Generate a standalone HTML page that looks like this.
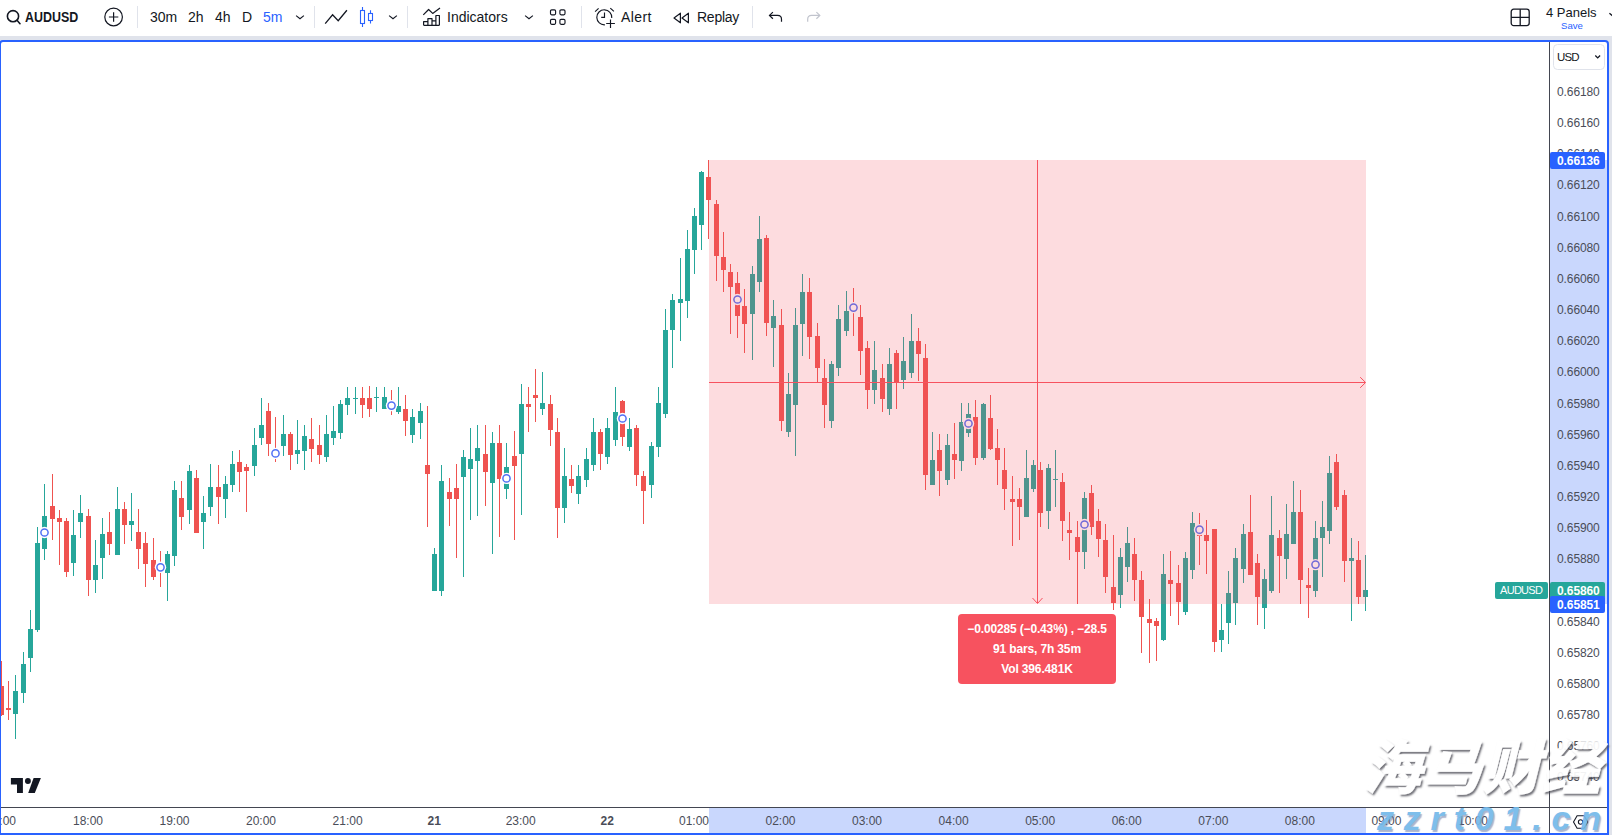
<!DOCTYPE html>
<html lang="en">
<head>
<meta charset="utf-8">
<title>AUDUSD chart</title>
<style>
html,body{margin:0;padding:0;}
body{width:1612px;height:835px;overflow:hidden;background:#e0e3eb;position:relative;font-family:"Liberation Sans","Noto Sans CJK SC",sans-serif;color:#131722;}
#tb{position:absolute;left:0;top:0;width:1612px;height:36px;background:#fff;}
#tb .t{position:absolute;top:9px;font-size:14px;line-height:16px;white-space:nowrap;color:#131722;}
#tb .sep{position:absolute;top:6px;width:1px;height:22px;background:#e0e3eb;}
#tb svg{position:absolute;overflow:visible;}
#frame{position:absolute;left:-1px;top:40px;width:1606px;height:791px;border:2px solid #2962ff;border-radius:4px 4px 0 0;background:#fff;overflow:hidden;}
#chart{position:absolute;left:0;top:0;}
.pt{position:absolute;left:1557px;width:50px;font-size:12px;line-height:16px;color:#4a4d58;letter-spacing:-0.1px;}
.tt{position:absolute;top:813px;width:60px;text-align:center;font-size:12px;line-height:16px;color:#4a4d58;}
.tt.b{font-weight:bold;}
.lbl{position:absolute;color:#fff;font-size:12px;line-height:17px;font-weight:bold;white-space:nowrap;}
.lbl.ax{left:1550px;width:48px;height:17px;line-height:19px;overflow:hidden;padding-left:7px;border-radius:2px;letter-spacing:-0.1px;}
#wm1{position:absolute;left:1359px;top:734px;font-family:"Liberation Sans","Noto Sans CJK SC","WenQuanYi Zen Hei",sans-serif;font-weight:900;font-size:59px;line-height:70px;color:#fff;white-space:nowrap;transform:skewX(-14deg);transform-origin:left bottom;text-shadow:2px 2px 2px rgba(75,75,85,.85);letter-spacing:.5px;-webkit-text-stroke:.5px rgba(255,255,255,.9);opacity:.93;}
#wm2{position:absolute;left:1377px;top:798px;font-weight:bold;font-style:italic;font-size:34px;line-height:40px;color:#74b9ea;white-space:nowrap;letter-spacing:9.8px;opacity:.92;text-shadow:1.5px 1.5px 1px rgba(90,110,160,.55);}
</style>
</head>
<body>
<div id="tb">
  <svg style="left:4.6px;top:8px" width="18" height="18" viewBox="0 0 18 18" fill="none" stroke="#131722" stroke-width="1.6"><circle cx="8" cy="8.2" r="5.6"/><path d="M12 12.3l3 3.4" stroke-linecap="round"/></svg>
  <div class="t" style="left:25px;top:9px;font-weight:bold;transform:scaleX(.89);transform-origin:0 0;">AUDUSD</div>
  <svg style="left:104px;top:7.4px" width="20" height="20" viewBox="0 0 20 20" fill="none" stroke="#131722" stroke-width="1.2"><circle cx="9.6" cy="10" r="8.8"/><path d="M9.6 5.3v9.4M4.9 10h9.4"/></svg>
  <div class="sep" style="left:137px"></div>
  <div class="t" style="left:150px">30m</div>
  <div class="t" style="left:188px">2h</div>
  <div class="t" style="left:215px">4h</div>
  <div class="t" style="left:242px">D</div>
  <div class="t" style="left:263px;color:#2962ff">5m</div>
  <svg style="left:295px;top:14px" width="10" height="7" viewBox="0 0 10 7" fill="none" stroke="#131722" stroke-width="1.15"><path d="M1.1 1.6l3.9 3.1 3.9-3.1"/></svg>
  <div class="sep" style="left:314px"></div>
  <svg style="left:324px;top:8px" width="24" height="18" viewBox="0 0 24 18" fill="none" stroke="#131722" stroke-width="1.3" stroke-linejoin="miter"><path d="M1.2 15.6L8.6 6.8l5.6 5.9 8.7-10.45"/></svg>
  <svg style="left:359px;top:6px" width="16" height="22" viewBox="0 0 16 22" fill="none" stroke="#2962ff" stroke-width="1.1"><rect x="1.5" y="4.5" width="4" height="13"/><path d="M3.5 1v3.5M3.5 17.5V21"/><rect x="9.5" y="7.5" width="4" height="7"/><path d="M11.5 4.25V7.5M11.5 14.5v3.1"/></svg>
  <svg style="left:388px;top:14px" width="10" height="7" viewBox="0 0 10 7" fill="none" stroke="#131722" stroke-width="1.15"><path d="M1.1 1.6l3.9 3.1 3.9-3.1"/></svg>
  <div class="sep" style="left:407px"></div>
  <svg style="left:421px;top:7px" width="20" height="20" viewBox="0 0 20 20" fill="none" stroke="#131722" stroke-width="1.2" stroke-linejoin="round"><path d="M2.3 7.9l5.3-5.4 4.1 3.9L19 1"/><path d="M2.6 18.3v-3.6h4.3M6.9 18.3v-6.6h4.1v6.6M11 13.9h3.9M14.9 18.3V8.5h3.5v9.8M2.6 18.3h15.8"/></svg>
  <div class="t" style="left:447px">Indicators</div>
  <svg style="left:524px;top:14px" width="10" height="7" viewBox="0 0 10 7" fill="none" stroke="#131722" stroke-width="1.15"><path d="M1.1 1.6l3.9 3.1 3.9-3.1"/></svg>
  <svg style="left:549px;top:9px" width="18" height="17" viewBox="0 0 18 17" fill="none" stroke="#131722" stroke-width="1.15"><rect x="1.5" y=".8" width="5.1" height="5" rx="1.2"/><rect x="10.9" y=".8" width="5.1" height="5" rx="1.2"/><rect x="1.5" y="10.3" width="5.1" height="5" rx="1.2"/><rect x="10.9" y="10.3" width="5.1" height="5" rx="1.2"/></svg>
  <div class="sep" style="left:581px"></div>
  <svg style="left:594px;top:6px" width="22" height="23" viewBox="0 0 22 23" fill="none" stroke="#131722" stroke-width="1.15"><path d="M17.77 11.95A7.5 7.5 0 1 0 10.95 18.77"/><path d="M10.5 6.4v5H7.2"/><path d="M1.1 5.7l3.5-3.3M16.3 2.1l3.6 3.3"/><path d="M16.5 13.5V22M12.2 17.5h8.7"/></svg>
  <div class="t" style="left:621px;letter-spacing:.4px">Alert</div>
  <svg style="left:673.2px;top:11.5px" width="17" height="12" viewBox="0 0 17 12" fill="none" stroke="#131722" stroke-width="1.2" stroke-linejoin="round"><path d="M7.4 1.2v9.6L1 6z"/><path d="M15.4 1.2v9.6L9 6z"/></svg>
  <div class="t" style="left:697px;letter-spacing:-0.25px">Replay</div>
  <div class="sep" style="left:752px"></div>
  <svg style="left:768px;top:10px" width="16" height="13" viewBox="0 0 16 13" fill="none" stroke="#131722" stroke-width="1.2"><path d="M4.9 2.1L1.5 5.4l3.4 3.3"/><path d="M1.6 5.4h8c2.4 0 3.9 1.7 3.9 3.9v2.4"/></svg>
  <svg style="left:805px;top:10px" width="16" height="13" viewBox="0 0 16 13" fill="none" stroke="#c1c4cd" stroke-width="1.2"><path d="M11.4 2.1l3.4 3.3-3.4 3.3"/><path d="M14.7 5.4H6.6c-2.4 0-3.9 1.7-3.9 3.9v2.4"/></svg>
  <svg style="left:1510px;top:8px" width="20" height="19" viewBox="0 0 20 19" fill="none" stroke="#131722" stroke-width="1.3"><rect x="1.2" y="1.2" width="18" height="16.4" rx="2.5"/><path d="M10.2 1.2v16.4M1.2 9.4h18"/></svg>
  <div class="t" style="left:1546px;top:4.5px;font-size:13px;line-height:15px;">4 Panels</div>
  <div class="t" style="left:1561px;top:19.6px;font-size:9.6px;line-height:11px;color:#2962ff;">Save</div>
  <svg style="left:1606px;top:11px" width="10" height="8" viewBox="0 0 10 8" fill="none" stroke="#131722" stroke-width="1.2"><path d="M3.4 2.2l3.8 3.2"/></svg>
</div>

<div id="frame">
<svg id="chart" width="1612" height="795" viewBox="1 42 1612 795" shape-rendering="crispEdges">
  <!-- candles -->
<rect x="1" y="661" width="1" height="55" fill="#ef5350"/>
<rect x="-1" y="686" width="5" height="29" fill="#ef5350"/>
<rect x="8" y="681" width="1" height="39" fill="#ef5350"/>
<rect x="6" y="708" width="5" height="2" fill="#ef5350"/>
<rect x="15" y="675" width="1" height="64" fill="#26a69a"/>
<rect x="13" y="691" width="5" height="23" fill="#26a69a"/>
<rect x="23" y="652" width="1" height="51" fill="#26a69a"/>
<rect x="21" y="664" width="5" height="29" fill="#26a69a"/>
<rect x="30" y="610" width="1" height="62" fill="#26a69a"/>
<rect x="28" y="629" width="5" height="29" fill="#26a69a"/>
<rect x="37" y="527" width="1" height="105" fill="#26a69a"/>
<rect x="35" y="543" width="5" height="87" fill="#26a69a"/>
<rect x="44" y="484" width="1" height="76" fill="#26a69a"/>
<rect x="42" y="516" width="5" height="33" fill="#26a69a"/>
<rect x="52" y="474" width="1" height="66" fill="#ef5350"/>
<rect x="50" y="506" width="5" height="13" fill="#ef5350"/>
<rect x="59" y="510" width="1" height="55" fill="#ef5350"/>
<rect x="57" y="518" width="5" height="4" fill="#ef5350"/>
<rect x="66" y="518" width="1" height="59" fill="#ef5350"/>
<rect x="64" y="521" width="5" height="51" fill="#ef5350"/>
<rect x="73" y="510" width="1" height="66" fill="#26a69a"/>
<rect x="71" y="535" width="5" height="28" fill="#26a69a"/>
<rect x="80" y="495" width="1" height="43" fill="#26a69a"/>
<rect x="78" y="513" width="5" height="9" fill="#26a69a"/>
<rect x="88" y="509" width="1" height="87" fill="#ef5350"/>
<rect x="86" y="516" width="5" height="64" fill="#ef5350"/>
<rect x="95" y="540" width="1" height="53" fill="#26a69a"/>
<rect x="93" y="565" width="5" height="15" fill="#26a69a"/>
<rect x="102" y="518" width="1" height="61" fill="#26a69a"/>
<rect x="100" y="534" width="5" height="24" fill="#26a69a"/>
<rect x="109" y="512" width="1" height="43" fill="#ef5350"/>
<rect x="107" y="532" width="5" height="12" fill="#ef5350"/>
<rect x="117" y="487" width="1" height="68" fill="#26a69a"/>
<rect x="115" y="509" width="5" height="46" fill="#26a69a"/>
<rect x="124" y="502" width="1" height="42" fill="#ef5350"/>
<rect x="122" y="509" width="5" height="16" fill="#ef5350"/>
<rect x="131" y="493" width="1" height="48" fill="#26a69a"/>
<rect x="129" y="521" width="5" height="4" fill="#26a69a"/>
<rect x="138" y="509" width="1" height="60" fill="#ef5350"/>
<rect x="136" y="532" width="5" height="17" fill="#ef5350"/>
<rect x="145" y="532" width="1" height="55" fill="#ef5350"/>
<rect x="143" y="543" width="5" height="21" fill="#ef5350"/>
<rect x="153" y="538" width="1" height="42" fill="#ef5350"/>
<rect x="151" y="560" width="5" height="17" fill="#ef5350"/>
<rect x="160" y="551" width="1" height="36" fill="#ef5350"/>
<rect x="158" y="567" width="5" height="1" fill="#ef5350"/>
<rect x="167" y="551" width="1" height="50" fill="#26a69a"/>
<rect x="165" y="554" width="5" height="19" fill="#26a69a"/>
<rect x="174" y="481" width="1" height="85" fill="#26a69a"/>
<rect x="172" y="490" width="5" height="66" fill="#26a69a"/>
<rect x="181" y="481" width="1" height="49" fill="#ef5350"/>
<rect x="179" y="498" width="5" height="19" fill="#ef5350"/>
<rect x="189" y="465" width="1" height="59" fill="#26a69a"/>
<rect x="187" y="471" width="5" height="39" fill="#26a69a"/>
<rect x="196" y="470" width="1" height="63" fill="#ef5350"/>
<rect x="194" y="478" width="5" height="55" fill="#ef5350"/>
<rect x="203" y="496" width="1" height="53" fill="#26a69a"/>
<rect x="201" y="513" width="5" height="9" fill="#26a69a"/>
<rect x="210" y="464" width="1" height="52" fill="#26a69a"/>
<rect x="208" y="487" width="5" height="20" fill="#26a69a"/>
<rect x="218" y="465" width="1" height="59" fill="#ef5350"/>
<rect x="216" y="487" width="5" height="10" fill="#ef5350"/>
<rect x="225" y="476" width="1" height="42" fill="#26a69a"/>
<rect x="223" y="484" width="5" height="15" fill="#26a69a"/>
<rect x="232" y="451" width="1" height="41" fill="#26a69a"/>
<rect x="230" y="464" width="5" height="21" fill="#26a69a"/>
<rect x="239" y="450" width="1" height="42" fill="#ef5350"/>
<rect x="237" y="462" width="5" height="10" fill="#ef5350"/>
<rect x="246" y="464" width="1" height="48" fill="#ef5350"/>
<rect x="244" y="467" width="5" height="4" fill="#ef5350"/>
<rect x="254" y="428" width="1" height="48" fill="#26a69a"/>
<rect x="252" y="445" width="5" height="21" fill="#26a69a"/>
<rect x="261" y="398" width="1" height="47" fill="#26a69a"/>
<rect x="259" y="425" width="5" height="13" fill="#26a69a"/>
<rect x="268" y="403" width="1" height="53" fill="#ef5350"/>
<rect x="266" y="411" width="5" height="33" fill="#ef5350"/>
<rect x="275" y="417" width="1" height="45" fill="#ef5350"/>
<rect x="273" y="453" width="5" height="1" fill="#ef5350"/>
<rect x="283" y="415" width="1" height="41" fill="#26a69a"/>
<rect x="281" y="434" width="5" height="12" fill="#26a69a"/>
<rect x="290" y="432" width="1" height="38" fill="#ef5350"/>
<rect x="288" y="434" width="5" height="21" fill="#ef5350"/>
<rect x="297" y="420" width="1" height="44" fill="#26a69a"/>
<rect x="295" y="450" width="5" height="4" fill="#26a69a"/>
<rect x="304" y="425" width="1" height="45" fill="#26a69a"/>
<rect x="302" y="436" width="5" height="15" fill="#26a69a"/>
<rect x="311" y="418" width="1" height="44" fill="#ef5350"/>
<rect x="309" y="439" width="5" height="10" fill="#ef5350"/>
<rect x="319" y="425" width="1" height="39" fill="#ef5350"/>
<rect x="317" y="445" width="5" height="10" fill="#ef5350"/>
<rect x="326" y="415" width="1" height="47" fill="#26a69a"/>
<rect x="324" y="434" width="5" height="23" fill="#26a69a"/>
<rect x="333" y="406" width="1" height="39" fill="#26a69a"/>
<rect x="331" y="431" width="5" height="7" fill="#26a69a"/>
<rect x="340" y="400" width="1" height="39" fill="#26a69a"/>
<rect x="338" y="404" width="5" height="29" fill="#26a69a"/>
<rect x="347" y="387" width="1" height="28" fill="#26a69a"/>
<rect x="345" y="398" width="5" height="7" fill="#26a69a"/>
<rect x="355" y="387" width="1" height="27" fill="#26a69a"/>
<rect x="353" y="398" width="5" height="1" fill="#26a69a"/>
<rect x="362" y="387" width="1" height="31" fill="#ef5350"/>
<rect x="360" y="398" width="5" height="7" fill="#ef5350"/>
<rect x="369" y="386" width="1" height="31" fill="#ef5350"/>
<rect x="367" y="398" width="5" height="11" fill="#ef5350"/>
<rect x="376" y="387" width="1" height="25" fill="#26a69a"/>
<rect x="374" y="397" width="5" height="1" fill="#26a69a"/>
<rect x="384" y="387" width="1" height="22" fill="#26a69a"/>
<rect x="382" y="397" width="5" height="12" fill="#26a69a"/>
<rect x="391" y="390" width="1" height="25" fill="#ef5350"/>
<rect x="389" y="405" width="5" height="1" fill="#ef5350"/>
<rect x="398" y="387" width="1" height="27" fill="#26a69a"/>
<rect x="396" y="406" width="5" height="6" fill="#26a69a"/>
<rect x="405" y="395" width="1" height="41" fill="#ef5350"/>
<rect x="403" y="409" width="5" height="12" fill="#ef5350"/>
<rect x="412" y="409" width="1" height="34" fill="#26a69a"/>
<rect x="410" y="417" width="5" height="18" fill="#26a69a"/>
<rect x="420" y="403" width="1" height="36" fill="#26a69a"/>
<rect x="418" y="411" width="5" height="12" fill="#26a69a"/>
<rect x="427" y="406" width="1" height="121" fill="#ef5350"/>
<rect x="425" y="465" width="5" height="9" fill="#ef5350"/>
<rect x="434" y="548" width="1" height="43" fill="#26a69a"/>
<rect x="432" y="554" width="5" height="37" fill="#26a69a"/>
<rect x="441" y="465" width="1" height="131" fill="#26a69a"/>
<rect x="439" y="481" width="5" height="110" fill="#26a69a"/>
<rect x="449" y="478" width="1" height="48" fill="#ef5350"/>
<rect x="447" y="492" width="5" height="7" fill="#ef5350"/>
<rect x="456" y="464" width="1" height="94" fill="#ef5350"/>
<rect x="454" y="488" width="5" height="11" fill="#ef5350"/>
<rect x="463" y="450" width="1" height="127" fill="#26a69a"/>
<rect x="461" y="457" width="5" height="20" fill="#26a69a"/>
<rect x="470" y="428" width="1" height="92" fill="#26a69a"/>
<rect x="468" y="459" width="5" height="10" fill="#26a69a"/>
<rect x="477" y="425" width="1" height="91" fill="#26a69a"/>
<rect x="475" y="448" width="5" height="13" fill="#26a69a"/>
<rect x="485" y="425" width="1" height="81" fill="#ef5350"/>
<rect x="483" y="454" width="5" height="18" fill="#ef5350"/>
<rect x="492" y="432" width="1" height="122" fill="#26a69a"/>
<rect x="490" y="443" width="5" height="40" fill="#26a69a"/>
<rect x="499" y="425" width="1" height="112" fill="#ef5350"/>
<rect x="497" y="443" width="5" height="36" fill="#ef5350"/>
<rect x="506" y="443" width="1" height="56" fill="#26a69a"/>
<rect x="504" y="467" width="5" height="22" fill="#26a69a"/>
<rect x="514" y="431" width="1" height="109" fill="#ef5350"/>
<rect x="512" y="456" width="5" height="10" fill="#ef5350"/>
<rect x="521" y="384" width="1" height="131" fill="#26a69a"/>
<rect x="519" y="404" width="5" height="50" fill="#26a69a"/>
<rect x="528" y="387" width="1" height="45" fill="#ef5350"/>
<rect x="526" y="404" width="5" height="3" fill="#ef5350"/>
<rect x="535" y="369" width="1" height="53" fill="#ef5350"/>
<rect x="533" y="395" width="5" height="3" fill="#ef5350"/>
<rect x="542" y="372" width="1" height="43" fill="#26a69a"/>
<rect x="540" y="403" width="5" height="6" fill="#26a69a"/>
<rect x="550" y="395" width="1" height="51" fill="#ef5350"/>
<rect x="548" y="404" width="5" height="26" fill="#ef5350"/>
<rect x="557" y="418" width="1" height="120" fill="#ef5350"/>
<rect x="555" y="432" width="5" height="76" fill="#ef5350"/>
<rect x="564" y="448" width="1" height="75" fill="#26a69a"/>
<rect x="562" y="476" width="5" height="32" fill="#26a69a"/>
<rect x="571" y="465" width="1" height="28" fill="#ef5350"/>
<rect x="569" y="479" width="5" height="7" fill="#ef5350"/>
<rect x="578" y="465" width="1" height="39" fill="#26a69a"/>
<rect x="576" y="476" width="5" height="18" fill="#26a69a"/>
<rect x="586" y="448" width="1" height="39" fill="#26a69a"/>
<rect x="584" y="459" width="5" height="21" fill="#26a69a"/>
<rect x="593" y="418" width="1" height="53" fill="#26a69a"/>
<rect x="591" y="432" width="5" height="33" fill="#26a69a"/>
<rect x="600" y="429" width="1" height="41" fill="#ef5350"/>
<rect x="598" y="432" width="5" height="22" fill="#ef5350"/>
<rect x="607" y="418" width="1" height="46" fill="#26a69a"/>
<rect x="605" y="428" width="5" height="29" fill="#26a69a"/>
<rect x="615" y="387" width="1" height="59" fill="#26a69a"/>
<rect x="613" y="412" width="5" height="28" fill="#26a69a"/>
<rect x="622" y="400" width="1" height="46" fill="#ef5350"/>
<rect x="620" y="401" width="5" height="36" fill="#ef5350"/>
<rect x="629" y="418" width="1" height="33" fill="#26a69a"/>
<rect x="627" y="429" width="5" height="18" fill="#26a69a"/>
<rect x="636" y="425" width="1" height="61" fill="#ef5350"/>
<rect x="634" y="428" width="5" height="47" fill="#ef5350"/>
<rect x="643" y="471" width="1" height="53" fill="#ef5350"/>
<rect x="641" y="476" width="5" height="15" fill="#ef5350"/>
<rect x="651" y="442" width="1" height="56" fill="#26a69a"/>
<rect x="649" y="446" width="5" height="39" fill="#26a69a"/>
<rect x="658" y="387" width="1" height="70" fill="#26a69a"/>
<rect x="656" y="403" width="5" height="44" fill="#26a69a"/>
<rect x="665" y="309" width="1" height="109" fill="#26a69a"/>
<rect x="663" y="330" width="5" height="84" fill="#26a69a"/>
<rect x="672" y="294" width="1" height="74" fill="#26a69a"/>
<rect x="670" y="300" width="5" height="30" fill="#26a69a"/>
<rect x="680" y="258" width="1" height="83" fill="#26a69a"/>
<rect x="678" y="299" width="5" height="4" fill="#26a69a"/>
<rect x="687" y="230" width="1" height="88" fill="#26a69a"/>
<rect x="685" y="249" width="5" height="52" fill="#26a69a"/>
<rect x="694" y="208" width="1" height="66" fill="#26a69a"/>
<rect x="692" y="216" width="5" height="34" fill="#26a69a"/>
<rect x="701" y="171" width="1" height="79" fill="#26a69a"/>
<rect x="699" y="172" width="5" height="53" fill="#26a69a"/>
<rect x="708" y="160" width="1" height="79" fill="#ef5350"/>
<rect x="706" y="177" width="5" height="23" fill="#ef5350"/>
<rect x="716" y="200" width="1" height="81" fill="#ef5350"/>
<rect x="714" y="204" width="5" height="52" fill="#ef5350"/>
<rect x="723" y="232" width="1" height="60" fill="#ef5350"/>
<rect x="721" y="257" width="5" height="13" fill="#ef5350"/>
<rect x="730" y="264" width="1" height="70" fill="#ef5350"/>
<rect x="728" y="272" width="5" height="15" fill="#ef5350"/>
<rect x="737" y="272" width="1" height="66" fill="#ef5350"/>
<rect x="735" y="283" width="5" height="33" fill="#ef5350"/>
<rect x="744" y="289" width="1" height="64" fill="#ef5350"/>
<rect x="742" y="306" width="5" height="18" fill="#ef5350"/>
<rect x="752" y="266" width="1" height="94" fill="#26a69a"/>
<rect x="750" y="274" width="5" height="40" fill="#26a69a"/>
<rect x="759" y="216" width="1" height="76" fill="#26a69a"/>
<rect x="757" y="239" width="5" height="43" fill="#26a69a"/>
<rect x="766" y="235" width="1" height="101" fill="#ef5350"/>
<rect x="764" y="238" width="5" height="85" fill="#ef5350"/>
<rect x="773" y="300" width="1" height="67" fill="#26a69a"/>
<rect x="771" y="316" width="5" height="12" fill="#26a69a"/>
<rect x="781" y="309" width="1" height="122" fill="#ef5350"/>
<rect x="779" y="325" width="5" height="96" fill="#ef5350"/>
<rect x="788" y="373" width="1" height="64" fill="#26a69a"/>
<rect x="786" y="394" width="5" height="38" fill="#26a69a"/>
<rect x="795" y="308" width="1" height="148" fill="#26a69a"/>
<rect x="793" y="325" width="5" height="80" fill="#26a69a"/>
<rect x="802" y="274" width="1" height="82" fill="#26a69a"/>
<rect x="800" y="292" width="5" height="32" fill="#26a69a"/>
<rect x="809" y="278" width="1" height="81" fill="#ef5350"/>
<rect x="807" y="292" width="5" height="45" fill="#ef5350"/>
<rect x="817" y="323" width="1" height="59" fill="#ef5350"/>
<rect x="815" y="336" width="5" height="32" fill="#ef5350"/>
<rect x="824" y="359" width="1" height="69" fill="#ef5350"/>
<rect x="822" y="378" width="5" height="27" fill="#ef5350"/>
<rect x="831" y="361" width="1" height="67" fill="#26a69a"/>
<rect x="829" y="364" width="5" height="57" fill="#26a69a"/>
<rect x="838" y="305" width="1" height="71" fill="#26a69a"/>
<rect x="836" y="319" width="5" height="49" fill="#26a69a"/>
<rect x="846" y="291" width="1" height="45" fill="#26a69a"/>
<rect x="844" y="311" width="5" height="20" fill="#26a69a"/>
<rect x="853" y="288" width="1" height="48" fill="#ef5350"/>
<rect x="851" y="307" width="5" height="1" fill="#ef5350"/>
<rect x="860" y="305" width="1" height="70" fill="#ef5350"/>
<rect x="858" y="317" width="5" height="34" fill="#ef5350"/>
<rect x="867" y="341" width="1" height="68" fill="#ef5350"/>
<rect x="865" y="348" width="5" height="42" fill="#ef5350"/>
<rect x="874" y="341" width="1" height="63" fill="#26a69a"/>
<rect x="872" y="370" width="5" height="20" fill="#26a69a"/>
<rect x="882" y="364" width="1" height="48" fill="#ef5350"/>
<rect x="880" y="378" width="5" height="21" fill="#ef5350"/>
<rect x="889" y="348" width="1" height="67" fill="#26a69a"/>
<rect x="887" y="364" width="5" height="45" fill="#26a69a"/>
<rect x="896" y="350" width="1" height="59" fill="#ef5350"/>
<rect x="894" y="353" width="5" height="29" fill="#ef5350"/>
<rect x="903" y="337" width="1" height="52" fill="#26a69a"/>
<rect x="901" y="361" width="5" height="19" fill="#26a69a"/>
<rect x="911" y="314" width="1" height="64" fill="#26a69a"/>
<rect x="909" y="341" width="5" height="32" fill="#26a69a"/>
<rect x="918" y="328" width="1" height="53" fill="#ef5350"/>
<rect x="916" y="341" width="5" height="13" fill="#ef5350"/>
<rect x="925" y="344" width="1" height="146" fill="#ef5350"/>
<rect x="923" y="358" width="5" height="117" fill="#ef5350"/>
<rect x="932" y="432" width="1" height="53" fill="#26a69a"/>
<rect x="930" y="460" width="5" height="25" fill="#26a69a"/>
<rect x="939" y="434" width="1" height="62" fill="#ef5350"/>
<rect x="937" y="450" width="5" height="21" fill="#ef5350"/>
<rect x="947" y="434" width="1" height="51" fill="#26a69a"/>
<rect x="945" y="445" width="5" height="35" fill="#26a69a"/>
<rect x="954" y="423" width="1" height="56" fill="#ef5350"/>
<rect x="952" y="454" width="5" height="6" fill="#ef5350"/>
<rect x="961" y="403" width="1" height="68" fill="#26a69a"/>
<rect x="959" y="422" width="5" height="39" fill="#26a69a"/>
<rect x="968" y="403" width="1" height="34" fill="#26a69a"/>
<rect x="966" y="414" width="5" height="19" fill="#26a69a"/>
<rect x="975" y="400" width="1" height="65" fill="#ef5350"/>
<rect x="973" y="417" width="5" height="41" fill="#ef5350"/>
<rect x="983" y="403" width="1" height="57" fill="#26a69a"/>
<rect x="981" y="404" width="5" height="54" fill="#26a69a"/>
<rect x="990" y="395" width="1" height="55" fill="#ef5350"/>
<rect x="988" y="418" width="5" height="31" fill="#ef5350"/>
<rect x="997" y="429" width="1" height="56" fill="#ef5350"/>
<rect x="995" y="448" width="5" height="12" fill="#ef5350"/>
<rect x="1004" y="448" width="1" height="62" fill="#ef5350"/>
<rect x="1002" y="470" width="5" height="19" fill="#ef5350"/>
<rect x="1012" y="476" width="1" height="70" fill="#ef5350"/>
<rect x="1010" y="499" width="5" height="3" fill="#ef5350"/>
<rect x="1019" y="488" width="1" height="52" fill="#ef5350"/>
<rect x="1017" y="499" width="5" height="8" fill="#ef5350"/>
<rect x="1026" y="450" width="1" height="67" fill="#26a69a"/>
<rect x="1024" y="478" width="5" height="39" fill="#26a69a"/>
<rect x="1033" y="460" width="1" height="32" fill="#26a69a"/>
<rect x="1031" y="465" width="5" height="24" fill="#26a69a"/>
<rect x="1040" y="462" width="1" height="65" fill="#ef5350"/>
<rect x="1038" y="470" width="5" height="43" fill="#ef5350"/>
<rect x="1048" y="464" width="1" height="65" fill="#26a69a"/>
<rect x="1046" y="468" width="5" height="43" fill="#26a69a"/>
<rect x="1055" y="450" width="1" height="57" fill="#26a69a"/>
<rect x="1053" y="479" width="5" height="1" fill="#26a69a"/>
<rect x="1062" y="473" width="1" height="68" fill="#ef5350"/>
<rect x="1060" y="482" width="5" height="39" fill="#ef5350"/>
<rect x="1069" y="512" width="1" height="48" fill="#ef5350"/>
<rect x="1067" y="530" width="5" height="3" fill="#ef5350"/>
<rect x="1077" y="521" width="1" height="83" fill="#ef5350"/>
<rect x="1075" y="537" width="5" height="15" fill="#ef5350"/>
<rect x="1084" y="492" width="1" height="77" fill="#26a69a"/>
<rect x="1082" y="498" width="5" height="54" fill="#26a69a"/>
<rect x="1091" y="485" width="1" height="50" fill="#ef5350"/>
<rect x="1089" y="493" width="5" height="34" fill="#ef5350"/>
<rect x="1098" y="509" width="1" height="48" fill="#ef5350"/>
<rect x="1096" y="521" width="5" height="18" fill="#ef5350"/>
<rect x="1105" y="524" width="1" height="69" fill="#ef5350"/>
<rect x="1103" y="540" width="5" height="37" fill="#ef5350"/>
<rect x="1113" y="535" width="1" height="75" fill="#ef5350"/>
<rect x="1111" y="587" width="5" height="16" fill="#ef5350"/>
<rect x="1120" y="548" width="1" height="60" fill="#26a69a"/>
<rect x="1118" y="557" width="5" height="38" fill="#26a69a"/>
<rect x="1127" y="527" width="1" height="55" fill="#26a69a"/>
<rect x="1125" y="543" width="5" height="24" fill="#26a69a"/>
<rect x="1134" y="538" width="1" height="63" fill="#ef5350"/>
<rect x="1132" y="554" width="5" height="26" fill="#ef5350"/>
<rect x="1141" y="571" width="1" height="82" fill="#ef5350"/>
<rect x="1139" y="580" width="5" height="37" fill="#ef5350"/>
<rect x="1149" y="599" width="1" height="64" fill="#ef5350"/>
<rect x="1147" y="619" width="5" height="4" fill="#ef5350"/>
<rect x="1156" y="618" width="1" height="43" fill="#ef5350"/>
<rect x="1154" y="621" width="5" height="5" fill="#ef5350"/>
<rect x="1163" y="554" width="1" height="87" fill="#26a69a"/>
<rect x="1161" y="574" width="5" height="66" fill="#26a69a"/>
<rect x="1170" y="551" width="1" height="65" fill="#ef5350"/>
<rect x="1168" y="580" width="5" height="4" fill="#ef5350"/>
<rect x="1178" y="565" width="1" height="60" fill="#ef5350"/>
<rect x="1176" y="583" width="5" height="19" fill="#ef5350"/>
<rect x="1185" y="552" width="1" height="63" fill="#26a69a"/>
<rect x="1183" y="558" width="5" height="54" fill="#26a69a"/>
<rect x="1192" y="512" width="1" height="67" fill="#26a69a"/>
<rect x="1190" y="523" width="5" height="47" fill="#26a69a"/>
<rect x="1199" y="513" width="1" height="52" fill="#ef5350"/>
<rect x="1197" y="534" width="5" height="2" fill="#ef5350"/>
<rect x="1206" y="520" width="1" height="54" fill="#ef5350"/>
<rect x="1204" y="535" width="5" height="6" fill="#ef5350"/>
<rect x="1214" y="529" width="1" height="123" fill="#ef5350"/>
<rect x="1212" y="529" width="5" height="113" fill="#ef5350"/>
<rect x="1221" y="604" width="1" height="48" fill="#26a69a"/>
<rect x="1219" y="630" width="5" height="10" fill="#26a69a"/>
<rect x="1228" y="571" width="1" height="73" fill="#26a69a"/>
<rect x="1226" y="593" width="5" height="30" fill="#26a69a"/>
<rect x="1235" y="548" width="1" height="77" fill="#26a69a"/>
<rect x="1233" y="558" width="5" height="45" fill="#26a69a"/>
<rect x="1243" y="524" width="1" height="59" fill="#26a69a"/>
<rect x="1241" y="534" width="5" height="35" fill="#26a69a"/>
<rect x="1250" y="495" width="1" height="80" fill="#ef5350"/>
<rect x="1248" y="532" width="5" height="43" fill="#ef5350"/>
<rect x="1257" y="554" width="1" height="71" fill="#ef5350"/>
<rect x="1255" y="563" width="5" height="34" fill="#ef5350"/>
<rect x="1264" y="569" width="1" height="60" fill="#26a69a"/>
<rect x="1262" y="579" width="5" height="29" fill="#26a69a"/>
<rect x="1271" y="496" width="1" height="97" fill="#26a69a"/>
<rect x="1269" y="535" width="5" height="56" fill="#26a69a"/>
<rect x="1279" y="530" width="1" height="63" fill="#ef5350"/>
<rect x="1277" y="538" width="5" height="18" fill="#ef5350"/>
<rect x="1286" y="504" width="1" height="75" fill="#26a69a"/>
<rect x="1284" y="534" width="5" height="25" fill="#26a69a"/>
<rect x="1293" y="481" width="1" height="63" fill="#26a69a"/>
<rect x="1291" y="512" width="5" height="32" fill="#26a69a"/>
<rect x="1300" y="490" width="1" height="114" fill="#ef5350"/>
<rect x="1298" y="512" width="5" height="68" fill="#ef5350"/>
<rect x="1308" y="568" width="1" height="50" fill="#ef5350"/>
<rect x="1306" y="585" width="5" height="3" fill="#ef5350"/>
<rect x="1315" y="521" width="1" height="76" fill="#26a69a"/>
<rect x="1313" y="538" width="5" height="53" fill="#26a69a"/>
<rect x="1322" y="501" width="1" height="76" fill="#26a69a"/>
<rect x="1320" y="527" width="5" height="11" fill="#26a69a"/>
<rect x="1329" y="456" width="1" height="88" fill="#26a69a"/>
<rect x="1327" y="473" width="5" height="58" fill="#26a69a"/>
<rect x="1336" y="454" width="1" height="56" fill="#ef5350"/>
<rect x="1334" y="462" width="5" height="45" fill="#ef5350"/>
<rect x="1344" y="490" width="1" height="92" fill="#ef5350"/>
<rect x="1342" y="495" width="5" height="66" fill="#ef5350"/>
<rect x="1351" y="538" width="1" height="83" fill="#26a69a"/>
<rect x="1349" y="558" width="5" height="3" fill="#26a69a"/>
<rect x="1358" y="541" width="1" height="63" fill="#ef5350"/>
<rect x="1356" y="560" width="5" height="37" fill="#ef5350"/>
<rect x="1365" y="555" width="1" height="56" fill="#26a69a"/>
<rect x="1363" y="590" width="5" height="7" fill="#26a69a"/>
  <g shape-rendering="geometricPrecision">
<circle cx="44.5" cy="532.5" r="5.7" fill="#fff"/><circle cx="44.5" cy="532.5" r="3.6" fill="#fff" stroke="#5070f5" stroke-width="1.5"/>
<circle cx="160.5" cy="567.3" r="5.7" fill="#fff"/><circle cx="160.5" cy="567.3" r="3.6" fill="#fff" stroke="#5070f5" stroke-width="1.5"/>
<circle cx="275.5" cy="453.4" r="5.7" fill="#fff"/><circle cx="275.5" cy="453.4" r="3.6" fill="#fff" stroke="#5070f5" stroke-width="1.5"/>
<circle cx="391.5" cy="405.6" r="5.7" fill="#fff"/><circle cx="391.5" cy="405.6" r="3.6" fill="#fff" stroke="#5070f5" stroke-width="1.5"/>
<circle cx="506.5" cy="478.4" r="5.7" fill="#fff"/><circle cx="506.5" cy="478.4" r="3.6" fill="#fff" stroke="#5070f5" stroke-width="1.5"/>
<circle cx="622.5" cy="418.5" r="5.7" fill="#fff"/><circle cx="622.5" cy="418.5" r="3.6" fill="#fff" stroke="#5070f5" stroke-width="1.5"/>
<circle cx="737.5" cy="299.5" r="5.7" fill="#fff"/><circle cx="737.5" cy="299.5" r="3.6" fill="#fff" stroke="#5070f5" stroke-width="1.5"/>
<circle cx="853.5" cy="307.6" r="5.7" fill="#fff"/><circle cx="853.5" cy="307.6" r="3.6" fill="#fff" stroke="#5070f5" stroke-width="1.5"/>
<circle cx="968.5" cy="423.5" r="5.7" fill="#fff"/><circle cx="968.5" cy="423.5" r="3.6" fill="#fff" stroke="#5070f5" stroke-width="1.5"/>
<circle cx="1084.5" cy="524.5" r="5.7" fill="#fff"/><circle cx="1084.5" cy="524.5" r="3.6" fill="#fff" stroke="#5070f5" stroke-width="1.5"/>
<circle cx="1199.5" cy="529.7" r="5.7" fill="#fff"/><circle cx="1199.5" cy="529.7" r="3.6" fill="#fff" stroke="#5070f5" stroke-width="1.5"/>
<circle cx="1315.5" cy="564.6" r="5.7" fill="#fff"/><circle cx="1315.5" cy="564.6" r="3.6" fill="#fff" stroke="#5070f5" stroke-width="1.5"/>
  </g>
  <!-- measure box -->
  <rect x="709" y="160" width="657" height="444" fill="rgba(247,82,95,0.2)"/>
  <rect x="709" y="382" width="656" height="1" fill="#f7525f"/>
  <rect x="1037" y="160" width="1" height="443" fill="#f7525f"/>
  <g shape-rendering="geometricPrecision" fill="none" stroke="#f7525f" stroke-width="1">
    <path d="M1360.2 377.2l5.4 5.3-5.4 5.3"/>
    <path d="M1032.5 598l5 5.5 5-5.5"/>
  </g>
  <rect x="958" y="614" width="158" height="70" rx="4" fill="#f7525f" shape-rendering="geometricPrecision"/>
  <!-- axis highlight -->
  <rect x="709" y="808" width="657" height="26" fill="#c9d7fd"/>
  <rect x="1550" y="160" width="57" height="444" fill="#c9d7fd"/>
  <!-- axis lines -->
  <rect x="1549" y="42" width="1" height="792" fill="#434651"/>
  <rect x="0" y="807" width="1607" height="1" fill="#434651"/>
  <!-- labels -->
  <!-- USD box -->
  <rect x="1553.5" y="44.5" width="51" height="25" rx="4" fill="#fff" stroke="#e0e3eb" shape-rendering="geometricPrecision"/>
  <path d="M1595.3 55.5l2.4 2.4 2.4-2.4" fill="none" stroke="#131722" stroke-width="1.3" shape-rendering="geometricPrecision"/>
  <!-- TV logo -->
  <g shape-rendering="geometricPrecision" fill="#131722">
    <path d="M10.9 778h12v15H17v-8.5h-6.1z"/>
    <circle cx="27.9" cy="781" r="2.95"/>
    <path d="M33.6 778h7.3l-6.1 15h-6.6z"/>
  </g>
  <!-- settings hexagon -->
  <g shape-rendering="geometricPrecision" fill="none" stroke="#131722" stroke-width="1.1">
    <path d="M1573.5 822l3.6-6.2h7l3.6 6.2-3.6 6.2h-7z"/>
    <circle cx="1580.6" cy="822" r="2.2"/>
  </g>
</svg>
<div style="position:absolute;left:-1px;top:-42px;">
<div class="pt" style="top:84.0px">0.66180</div>
<div class="pt" style="top:115.2px">0.66160</div>
<div class="pt" style="top:146.3px">0.66140</div>
<div class="pt" style="top:177.4px">0.66120</div>
<div class="pt" style="top:208.6px">0.66100</div>
<div class="pt" style="top:239.8px">0.66080</div>
<div class="pt" style="top:270.9px">0.66060</div>
<div class="pt" style="top:302.0px">0.66040</div>
<div class="pt" style="top:333.2px">0.66020</div>
<div class="pt" style="top:364.3px">0.66000</div>
<div class="pt" style="top:395.5px">0.65980</div>
<div class="pt" style="top:426.6px">0.65960</div>
<div class="pt" style="top:457.8px">0.65940</div>
<div class="pt" style="top:488.9px">0.65920</div>
<div class="pt" style="top:520.1px">0.65900</div>
<div class="pt" style="top:551.2px">0.65880</div>
<div class="pt" style="top:582.4px">0.65860</div>
<div class="pt" style="top:613.5px">0.65840</div>
<div class="pt" style="top:644.7px">0.65820</div>
<div class="pt" style="top:675.9px">0.65800</div>
<div class="pt" style="top:707.0px">0.65780</div>
<div class="pt" style="top:738.1px">0.65760</div>
<div class="pt" style="top:769.3px">0.65740</div>
<div class="tt" style="left:-14px;width:30px;text-align:right">:00</div>
<div class="tt" style="left:58.0px">18:00</div>
<div class="tt" style="left:144.5px">19:00</div>
<div class="tt" style="left:231.0px">20:00</div>
<div class="tt" style="left:317.6px">21:00</div>
<div class="tt b" style="left:404.2px">21</div>
<div class="tt" style="left:490.7px">23:00</div>
<div class="tt b" style="left:577.3px">22</div>
<div class="tt" style="left:664.0px">01:00</div>
<div class="tt" style="left:750.5px">02:00</div>
<div class="tt" style="left:837.0px">03:00</div>
<div class="tt" style="left:923.6px">04:00</div>
<div class="tt" style="left:1010.2px">05:00</div>
<div class="tt" style="left:1096.7px">06:00</div>
<div class="tt" style="left:1183.3px">07:00</div>
<div class="tt" style="left:1269.8px">08:00</div>
<div class="tt" style="left:1356.4px">09:00</div>
<div class="tt" style="left:1443.0px">10:00</div>

<div class="pt" style="top:48.5px;left:1557px;font-size:11.5px;letter-spacing:-0.9px;color:#131722">USD</div>
<div class="lbl ax" style="top:152px;background:#2962ff;">0.66136</div>
<div class="lbl" style="left:1495px;top:582px;width:53px;height:17px;border-radius:2px;background:#26a69a;font-weight:normal;font-size:11px;letter-spacing:-0.7px;text-indent:5px;">AUDUSD</div>
<div class="lbl ax" style="top:582px;background:#26a69a;">0.65860</div>
<div class="lbl ax" style="top:596px;background:#2962ff;">0.65851</div>
<div class="lbl" style="left:958px;top:619px;width:158px;text-align:center;font-size:12px;line-height:20px;letter-spacing:-0.15px;">−0.00285 (−0.43%) , −28.5<br>91 bars, 7h 35m<br>Vol 396.481K</div>
</div>
</div>
<div id="wm1">海马财经</div>
<div id="wm2">zzrt01.cn</div>
</body>
</html>
